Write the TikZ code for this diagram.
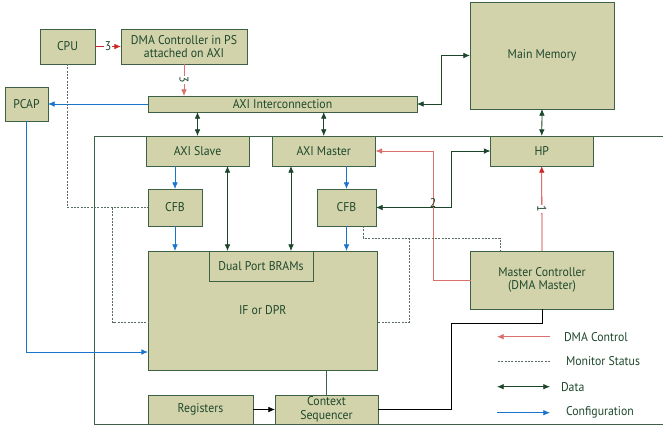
\documentclass[tikz,border=0pt]{standalone}
\usepackage{fontspec}
\setmainfont{PT Sans}[FakeStretch=0.93]
\usetikzlibrary{calc,arrows.meta}
\definecolor{boxfill}{RGB}{211,211,171}
\definecolor{boxline}{RGB}{60,97,70}
\definecolor{boxtext}{RGB}{30,72,44}
\definecolor{dmared}{RGB}{204,40,40}
\definecolor{dmapink}{RGB}{220,110,108}
\definecolor{cfgblue}{RGB}{24,116,205}
\definecolor{datagreen}{RGB}{28,70,42}
\definecolor{mongray}{RGB}{90,110,95}
\begin{document}
\begin{tikzpicture}[x=0.75pt,y=-0.75pt,>={Latex[length=5pt,width=4.2pt]},font=\fontsize{9.5}{10.3}\selectfont]
\tikzstyle{every node}+=[inner sep=0pt,outer sep=0pt]
\tikzstyle{blk}=[draw=boxline,line width=0.7pt,fill=boxfill,text=boxtext,align=center]
\tikzstyle{data}=[datagreen,line width=0.6pt,<->]
\tikzstyle{cfg}=[cfgblue,line width=0.6pt,->]
\tikzstyle{dmactl}=[dmared,line width=0.6pt,->]
\tikzstyle{mon}=[mongray,line width=0.6pt,dash pattern=on 1.5pt off 1pt]
\tikzstyle{num}=[text=boxtext,fill=white,inner sep=0.6pt]
\tikzstyle{lgd}=[anchor=west,text=boxtext]
\useasboundingbox (0,0) rectangle (663,430);
\draw[boxline,line width=0.6pt] (663,136) -- (94,136) -- (94,424) -- (663,424);
\node[blk,minimum width=41.25pt,minimum height=26.25pt] (cpu) at (67.5,46.5) {CPU};
\node[blk,minimum width=94.5pt,minimum height=26.25pt] (dma) at (184,46.5) {DMA Controller in PS\\attached on AXI};
\node[blk,minimum width=32.25pt,minimum height=25.5pt] (pcap) at (26.5,104) {PCAP};
\node[blk,minimum width=201.75pt,minimum height=12pt] (axi) at (282.5,104) {AXI Interconnection};
\node[blk,minimum width=108pt,minimum height=80.25pt] (mem) at (542,55.5) {Main Memory};
\node[blk,minimum width=77.25pt,minimum height=22.5pt] (slave) at (197.5,151) {AXI Slave};
\node[blk,minimum width=77.6pt,minimum height=22.5pt] (master) at (323.75,151) {AXI Master};
\node[blk,minimum width=76.9pt,minimum height=22.5pt] (hp) at (541.75,151) {HP};
\node[blk,minimum width=40.5pt,minimum height=27.75pt] (cfb1) at (175,207.5) {CFB};
\node[blk,minimum width=44.25pt,minimum height=27.75pt] (cfb2) at (346.5,207.5) {CFB};
\node[blk,minimum width=172.1pt,minimum height=89.25pt] (dpr) at (262.75,310.5) {IF or DPR};
\node[blk,minimum width=78pt,minimum height=22.5pt] (bram) at (261,266) {Dual Port BRAMs};
\node[blk,minimum width=107.25pt,minimum height=43.5pt] (mc) at (542,280) {Master Controller\\(DMA Master)};
\node[blk,minimum width=78.75pt,minimum height=21.75pt] (reg) at (200.5,409.5) {Registers};
\node[blk,minimum width=77.25pt,minimum height=21.75pt] (cs) at (326.5,409.5) {Context\\Sequencer};
\draw[dmactl] (cpu.east) -- node[num]{3} (dma.west);
\draw[dmactl,dmapink] (dma.south) -- node[num,rotate=-90]{3} (dma.south |- axi.north);
\draw[cfg] (axi.west) -- (pcap.east);
\draw[data] (axi.east) -- ++(24.7,0) |- (mem.west);
\draw[data] (axi.south -| slave.north) -- (slave.north);
\draw[data] (axi.south -| master.north) -- (master.north);
\draw[data] (mem.south) -- (hp.north);
\draw[cfg] (slave.south -| cfb1.north) -- (cfb1.north);
\draw[cfg] (cfb1.south) -- (cfb1.south |- dpr.north);
\draw[cfg] (master.south -| cfb2.north) -- (cfb2.north);
\draw[cfg] (cfb2.south) -- (cfb2.south |- dpr.north);
\draw[data] ($(slave.south)+(30,0)$) -- ++(0,85);
\draw[data] ($(master.south)+(-32.75,0)$) -- ++(0,85);
\draw[data] (cfb2.east) -- ++(75.7,0) |- (hp.west);
\draw[dmactl,dmapink] (mc.west) -- ++(-37.3,0) |- node[pos=0.3,text=boxtext]{2} (master.east);
\draw[dmactl] (mc.north) -- node[num,rotate=-90]{1} (hp.south);
\draw[black,line width=0.6pt] (cs.east) -- ++(73.6,0) |- ($(mc.south)+(0,14)$) -- (mc.south);
\draw[black,line width=0.6pt,->] (reg.east) -- (cs.west);
\draw[boxline,line width=0.6pt] (cs.north |- dpr.south) -- (cs.north);
\draw[cfg] (pcap.south) |- ($(dpr.west)+(0,41.5)$);
\draw[mon] (cpu.south) |- (cfb1.west);
\draw[mon] ($(cfb1.west)+(-35.3,0)$) |- ($(dpr.west)+(0,12.2)$);
\draw[mon] ($(cfb2.south)+(17,0)$) -- ++(0,12) -| ($(mc.north)+(-42,0)$);
\draw[mon] ($(cfb2.south)+(62.5,12)$) |- ($(dpr.east)+(0,12.2)$);
\node[lgd] (lgdma) at (564,336.7) {DMA Control};
\node[lgd] (lgmon) at (566,361) {Monitor Status};
\node[lgd] (lgdata) at (561,386.7) {Data};
\node[lgd] (lgcfg) at (566,412.7) {Configuration};
\draw[dmactl,dmapink] ($(lgdma.west)+(-14,0)$) -- ++(-53,0);
\draw[mon] ($(lgmon.west)+(-16,0)$) -- ++(-53,0);
\draw[data] ($(lgdata.west)+(-11,0)$) -- ++(-53,0);
\draw[cfg] ($(lgcfg.west)+(-69,0)$) -- ++(53,0);
\end{tikzpicture}
\end{document}
